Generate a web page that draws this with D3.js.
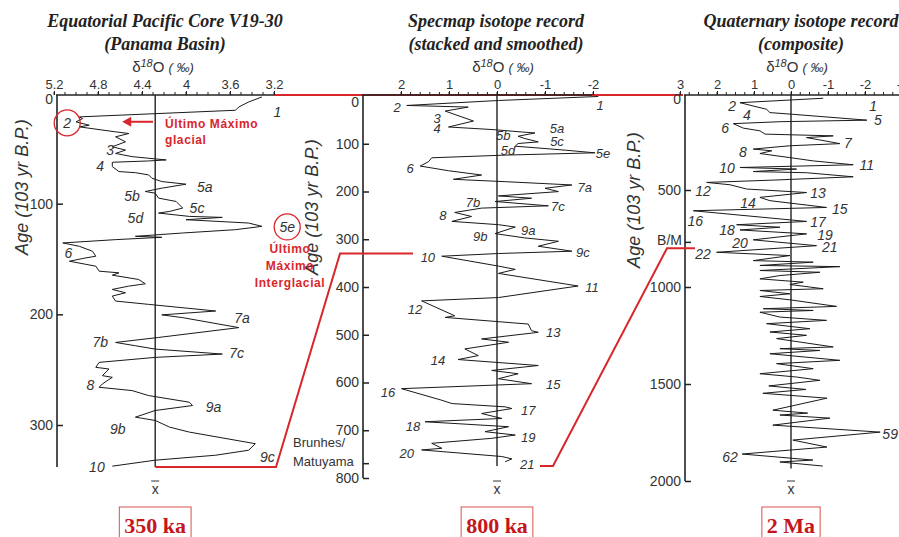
<!DOCTYPE html>
<html>
<head>
<meta charset="utf-8">
<script src="https://cdn.jsdelivr.net/npm/d3@7"></script>
<style>
  body { margin: 0; background: #fff; }
</style>
</head>
<body>
<div id="chart"></div>
<script>
// ---- data: [age (ka), δ18O (‰)] ----

// Equatorial Pacific core V19-30 (Panama Basin)
const v1930 = [
  [3.6,3.31],[8.1,3.43],[12.6,3.52],[15.6,3.55],[21.6,4.97],[23.1,4.94],[26.1,5.00],[29.1,4.88],
  [30.6,4.97],[35.1,4.64],[36.6,4.52],[39.6,4.64],[44.1,4.55],[48.6,4.67],[51.6,4.55],[54.6,4.64],
  [57.5,4.49],[60.5,4.18],[61.4,4.34],[62.6,4.67],[66.5,4.67],[71,4.61],[72,4.46],[74,4.34],
  [77,4.31],[80,4.22],[82.4,4.00],[86,4.22],[89,4.37],[90.5,4.28],[95,4.25],[98,4.09],
  [104,4.03],[107,4.15],[108.5,4.25],[111.5,3.97],[112.4,3.67],[114.5,4.00],[117.5,3.43],[120.5,3.31],
  [123.5,3.55],[126.5,4.03],[129.5,4.46],[130.4,4.22],[132.5,4.64],[135.5,5.12],[138.5,4.97],[143,4.85],
  [147.5,4.82],[149,4.91],[152,5.06],[156.5,4.82],[161,4.79],[162.5,4.61],[164.6,4.67],[168.5,4.43],
  [172.4,4.37],[174.5,4.52],[177.5,4.67],[180.5,4.55],[183.5,4.67],[188,4.64],[191,4.34],[197,3.73],
  [200.5,4.22],[203,4.03],[212,3.52],[220.9,4.25],[225.4,4.64],[228.4,4.46],[231.4,4.28],[235.9,3.67],
  [238.9,4.28],[243.4,4.79],[247.9,4.82],[249.4,4.70],[255.4,4.76],[256.9,4.67],[262.9,4.76],[265.9,4.79],
  [268.9,4.49],[273.4,4.34],[279.4,3.97],[282.4,3.94],[286.9,4.28],[292.9,4.46],[295.9,4.28],[301.9,4.15],
  [306.4,3.97],[316.9,3.37],[322.8,3.43],[327.3,3.73],[331.8,4.28],[337.2,4.67]
];
const v1930Stages = [
  ["1",17,3.17],["2",27,5.08],["3",51.5,4.69],["4",66,4.78],["5a",85,3.83],["5b",93,4.49],
  ["5c",104,3.90],["5d",113,4.46],["5e",121,3.08],["6",144.5,5.07],["7a",203,3.49],["7b",225,4.78],
  ["7c",235,3.54],["8",264,4.87],["9a",284,3.75],["9b",304,4.62],["9c",329,3.26],["10",338,4.81]
];
const v1930Mean = 4.28;

// SPECMAP stacked and smoothed record
const specmap = [
  [1,-2.11],[9.4,-0.03],[19.8,1.88],[23.2,0.60],[31.6,1.08],[52.4,0.49],[64.9,1.01],[70.4,0.08],
  [75.3,-0.51],[77.4,-0.79],[84.3,-0.44],[89.1,-0.58],[96.1,-0.86],[99.5,-0.44],[105.1,-0.38],[113.4,-1.42],
  [119,-2.04],[123.8,-0.17],[129.4,1.36],[137.8,1.43],[146.7,1.60],[156.5,1.01],[165.5,0.32],[174.5,0.91],
  [179.4,-0.17],[186.3,-1.56],[193.2,-1.00],[200.2,-1.28],[209.2,-0.03],[214.1,-0.72],[221,0.04],[230,-1.07],
  [234.8,0.32],[243.9,0.88],[252.3,0.53],[262.6,0.94],[269.5,-0.03],[274.4,-0.38],[288.2,0.04],[297.2,-0.58],
  [304.2,-1.28],[314.6,-0.86],[325,-1.56],[329.9,-0.03],[335.5,1.15],[356.2,-0.03],[363.1,-0.38],[371.5,-0.03],
  [397.9,-1.69],[422.1,-0.03],[429.1,1.57],[460.3,0.88],[463.7,1.08],[477.6,-0.65],[491.5,-0.72],[494.9,-0.86],
  [508.8,0.32],[515.7,-0.24],[529.7,0.67],[543.6,0.39],[551.9,0.81],[564.4,-0.86],[574.8,0.11],[581.7,-0.44],
  [592.1,-0.03],[602.5,-0.72],[612.9,1.99],[637.2,1.15],[644.1,0.94],[651,-0.17],[654.5,-0.31],[664.9,0.32],
  [675.3,-0.10],[682.2,1.50],[692.6,-0.24],[703,0.25],[710,-0.38],[716.9,0.11],[727.3,1.36],[737.8,1.15],
  [741.2,1.57],[755,-0.10],[760,-0.31],[766,-0.17]
];
const specmapStages = [
  ["1",19,-2.15],["2",23,2.08],["3",46,1.25],["4",69,1.25],["5a",67,-1.25],["5b",82,-0.13],
  ["5c",96,-1.25],["5d",113,-0.23],["5e",121,-2.21],["6",151,1.81],["7a",191,-1.83],["7b",222,0.5],
  ["7c",232,-1.27],["8",251,1.13],["9a",281,-0.65],["9b",295,0.35],["9c",327,-1.79],["10",339,1.44],
  ["11",400,-1.98],["12",448,1.71],["13",496,-1.17],["14",553,1.23],["15",605,-1.17],["16",620,2.27],
  ["17",658,-0.65],["18",693,1.75],["19",716,-0.65],["20",748,1.88],["21",771,-0.63]
];
const specmapMean = 0;

// Quaternary composite record
const quaternary = [
  [27,-0.87],[50,1.38],[84,0.66],[101,0.57],[110,-0.06],[140,-2.05],[148,0.30],[158,1.56],
  [181,1.29],[195,0.84],[212,0.70],[221,-1.14],[230,-0.42],[242,-0.78],[261,-1.32],[272,0.03],
  [289,1.02],[298,0.52],[312,0.84],[333,0.03],[350,-0.60],[370,-1.68],[384,1.38],[392,-0.15],
  [405,1.02],[411,-0.42],[432,-1.68],[449,0.48],[461,2.28],[473,1.65],[495,1.20],[513,-0.42],
  [538,0.84],[555,0.57],[590,-0.96],[607,2.64],[662,-0.42],[679,1.47],[692,0.30],[706,1.38],
  [726,-0.42],[757,1.02],[787,-0.69],[821,2.01],[838,0.03],[864,1.02],[872,-0.60],[889,0.84],
  [895,-1.32],[915,0.84],[924,-0.78],[941,0.30],[958,0.84],[975,-0.33],[987,0.03],[1009,-0.87],
  [1018,0.84],[1035,0.03],[1049,0.84],[1066,0.03],[1100,-1.23],[1112,0.75],[1121,-0.60],[1130,0.84],
  [1155,0.30],[1172,-0.96],[1189,0.66],[1215,-0.51],[1232,0.57],[1249,-0.42],[1266,0.39],[1309,-1.14],
  [1318,0.30],[1327,-0.78],[1344,0.57],[1378,-1.32],[1395,0.39],[1421,-0.60],[1447,0.84],[1464,-0.15],
  [1481,-0.78],[1510,0.60],[1528,-0.40],[1548,0.76],[1573,-0.97],[1635,0.49],[1650,-0.45],[1660,0.30],
  [1676,-1.05],[1712,0.49],[1748,-2.41],[1789,-0.05],[1825,-0.97],[1861,1.32],[1892,-0.59],[1902,0.30],
  [1923,-0.86]
];
const quaternaryStages = [
  ["1",67,-2.22],["2",67,1.59],["4",113,1.19],["5",139,-2.35],["6",180,1.78],["7",258,-1.54],
  ["8",304,1.30],["10",387,1.73],["11",371,-2.05],["12",505,2.38],["13",515,-0.73],["14",567,1.16],
  ["15",598,-1.32],["16",660,2.59],["17",665,-0.73],["18",706,1.73],["19",732,-0.92],["20",773,1.38],
  ["21",794,-1.05],["22",830,2.38],["59",1758,-2.68],["62",1876,1.65]
];
const quaternaryMean = 0;

// titles, ticks and time spans
const titles = [
  ["Equatorial Pacific Core V19-30", "(Panama Basin)"],
  ["Specmap isotope record", "(stacked and smoothed)"],
  ["Quaternary isotope record", "(composite)"]
];
const xTicks = [[5.2, 4.8, 4.4, 4, 3.6, 3.2], [2, 1, 0, -1, -2], [3, 2, 1, 0, -1, -2, -3]];
const yTicks = [[0, 100, 200, 300], [0, 100, 200, 300, 400, 500, 600, 700, 800], [0, 500, 1000, 1500, 2000]];
const spanLabels = ["350 ka", "800 ka", "2 Ma"];
const endAges = [338, 775, 1935];   // where each record ends
const bmAge = 770;                  // Brunhes/Matuyama boundary

// ---- layout ----
const width = 899, height = 537;
const axisY = 95;
const red = "#d8262b";
const ink = "#222";

const svg = d3.create("svg")
    .attr("width", width)
    .attr("height", height)
    .attr("style", "font-family: 'Liberation Sans', Arial, sans-serif;");
d3.select("#chart").node().appendChild(svg.node());

const panels = [
  { data: v1930, stages: v1930Stages, mean: v1930Mean, xDomain: [5.2, 3.2], xRange: [54, 274],
    yDomain: [0, 300], yRange: [93, 425], left: 57, axisEnd: 273, minor: 0.1, cx: 165, dx: 163,
    ageLabel: [28, 187], stageSize: 14 },
  { data: specmap, stages: specmapStages, mean: specmapMean, xDomain: [2, -2], xRange: [401, 593],
    yDomain: [0, 800], yRange: [96, 478], left: 363, axisEnd: 592, minor: 0.2, cx: 496, dx: 503,
    ageLabel: [318, 207], stageSize: 13 },
  { data: quaternary, stages: quaternaryStages, mean: quaternaryMean, xDomain: [3, -3], xRange: [680, 902],
    yDomain: [0, 2000], yRange: [93, 481], left: 685, axisEnd: 899, minor: 0.25, cx: 801, dx: 797,
    ageLabel: [640, 200], stageSize: 14 }
];
panels.forEach(p => {
  p.x = d3.scaleLinear().domain(p.xDomain).range(p.xRange);
  p.y = d3.scaleLinear().domain(p.yDomain).range(p.yRange);
});

// red line along the top, under the middle axis
svg.append("line")
    .attr("x1", panels[0].axisEnd).attr("x2", panels[2].left - 2)
    .attr("y1", axisY).attr("y2", axisY)
    .attr("stroke", red).attr("stroke-width", 2);

panels.forEach((p, i) => {
  const g = svg.append("g");
  const x = p.x, y = p.y;

  // titles
  g.selectAll(".title")
    .data(titles[i])
    .join("text")
    .attr("x", p.cx)
    .attr("y", (d, j) => 27 + j * 23)
    .attr("text-anchor", "middle")
    .attr("font-family", "'Liberation Serif', serif")
    .attr("font-weight", "bold")
    .attr("font-style", "italic")
    .attr("font-size", 18)
    .attr("fill", "#222")
    .text(d => d);

  // δ18O (‰)
  const d18 = g.append("text")
      .attr("x", p.dx).attr("y", 72)
      .attr("text-anchor", "middle")
      .attr("font-size", 15)
      .attr("fill", "#333");
  d18.append("tspan").text("δ");
  d18.append("tspan").attr("font-size", 11).attr("dy", -5).attr("font-style", "italic").text("18");
  d18.append("tspan").attr("dy", 5).text("O ");
  d18.append("tspan").attr("font-style", "italic").attr("font-size", 13).text("( ‰)");

  // top axis
  const step = p.minor * Math.sign(p.xDomain[1] - p.xDomain[0]);
  const minorTicks = d3.range(p.xDomain[0], p.xDomain[1] + step / 2, step);
  g.append("g")
      .selectAll("line")
      .data(minorTicks)
      .join("line")
      .attr("x1", d => x(d)).attr("x2", d => x(d))
      .attr("y1", axisY).attr("y2", axisY - 3)
      .attr("stroke", ink).attr("stroke-width", 1);

  const top = g.append("g")
      .attr("transform", `translate(0,${axisY})`)
      .call(d3.axisTop(x).tickValues(xTicks[i]).tickFormat(d => String(d)).tickSize(4).tickPadding(2));
  top.select(".domain").remove();
  top.selectAll("text").attr("font-size", 13).attr("fill", "#333");
  top.selectAll("line").attr("stroke", ink);

  g.append("line")
      .attr("x1", p.left - 1).attr("x2", p.axisEnd)
      .attr("y1", axisY).attr("y2", axisY)
      .attr("stroke", ink).attr("stroke-width", 1.6);

  // left (age) axis, ticks pointing inward
  const yBottom = i === 0 ? y(endAges[0]) : p.yRange[1];
  const leftAxis = g.append("g")
      .attr("transform", `translate(${p.left},0)`)
      .call(d3.axisLeft(y).tickValues(yTicks[i]).tickFormat(d => String(d)).tickSize(-6).tickPadding(4));
  leftAxis.select(".domain").remove();
  leftAxis.selectAll("text").attr("font-size", 14).attr("fill", "#333");
  // the "0" sits just under the top axis
  leftAxis.selectAll(".tick").filter(d => d === 0).select("text").attr("dy", "0.75em");
  leftAxis.selectAll(".tick").filter(d => d === 0).select("line").remove();
  leftAxis.selectAll("line").attr("stroke", ink).attr("stroke-width", 1.5);

  g.append("line")
      .attr("x1", p.left).attr("x2", p.left)
      .attr("y1", axisY).attr("y2", yBottom)
      .attr("stroke", ink).attr("stroke-width", 1.6);

  // Age label
  g.append("text")
      .attr("transform", `translate(${p.ageLabel[0]},${p.ageLabel[1]}) rotate(-90)`)
      .attr("text-anchor", "middle")
      .attr("font-size", 18)
      .attr("font-style", "italic")
      .attr("fill", "#333")
      .text("Age (103 yr B.P.)");

  // mean line and x̄
  const mx = x(p.mean);
  g.append("line")
      .attr("x1", mx).attr("x2", mx)
      .attr("y1", axisY).attr("y2", y(endAges[i]))
      .attr("stroke", ink).attr("stroke-width", 1.4);
  g.append("text")
      .attr("x", mx).attr("y", 494)
      .attr("text-anchor", "middle")
      .attr("font-size", 14)
      .attr("fill", "#333")
      .text("x");
  g.append("line")
      .attr("x1", mx - 4).attr("x2", mx + 4)
      .attr("y1", 481).attr("y2", 481)
      .attr("stroke", "#333").attr("stroke-width", 1);

  // isotope curve
  g.append("path")
      .datum(p.data)
      .attr("fill", "none")
      .attr("stroke", "#1a1a1a")
      .attr("stroke-width", 1)
      .attr("stroke-linejoin", "round")
      .attr("d", d3.line().x(d => x(d[1])).y(d => y(d[0])));

  // isotope stage numbers
  g.append("g")
      .selectAll("text")
      .data(p.stages)
      .join("text")
      .attr("x", d => x(d[2]))
      .attr("y", d => y(d[1]))
      .attr("dy", "0.35em")
      .attr("text-anchor", "middle")
      .attr("font-size", p.stageSize)
      .attr("font-style", "italic")
      .attr("fill", "#333")
      .text(d => d[0]);

  // time span box
  const span = g.append("text")
      .attr("x", mx).attr("y", 533)
      .attr("text-anchor", "middle")
      .attr("font-family", "'Liberation Serif', serif")
      .attr("font-weight", "bold")
      .attr("font-size", 22)
      .attr("fill", "#c4161c")
      .text(spanLabels[i]);
  const w = span.node().getComputedTextLength() + 10;
  g.append("rect")
      .attr("x", mx - w / 2).attr("y", 507)
      .attr("width", w).attr("height", 40)
      .attr("fill", "none")
      .attr("stroke", "#d9534f")
      .attr("stroke-width", 1);
});

// Brunhes/Matuyama ticks
const [p1, p2, p3] = panels;
[p2, p3].forEach(p => {
  svg.append("line")
      .attr("x1", p.left).attr("x2", p.left + 6)
      .attr("y1", p.y(bmAge)).attr("y2", p.y(bmAge))
      .attr("stroke", ink).attr("stroke-width", 1.5);
});
svg.append("text")
    .attr("x", 293).attr("y", p2.y(bmAge) - 17)
    .attr("font-size", 13).attr("fill", "#333")
    .text("Brunhes/");
svg.append("text")
    .attr("x", 293).attr("y", p2.y(bmAge) + 2)
    .attr("font-size", 13).attr("fill", "#333")
    .text("Matuyama");
svg.append("text")
    .attr("x", p3.left - 3).attr("y", p3.y(bmAge) + 3)
    .attr("text-anchor", "end")
    .attr("font-size", 14).attr("fill", "#333")
    .text("B/M");

// ---- red annotations ----
const ann = svg.append("g").attr("fill", "none").attr("stroke", red).attr("stroke-width", 2);

// connectors between the records
ann.append("polyline")
    .attr("points", [[p1.x(v1930Mean), p1.y(endAges[0])], [276, p1.y(endAges[0])],
                     [340, p2.y(330)], [413, p2.y(330)]].join(" "));
ann.append("polyline")
    .attr("points", [[540, p2.y(endAges[1])], [553, p2.y(endAges[1])],
                     [667, p3.y(800)], [695, p3.y(800)]].join(" "));

// circles around stages 2 and 5e
[v1930Stages[1], v1930Stages[8]].forEach(s => {
  ann.append("circle")
      .attr("cx", p1.x(s[2])).attr("cy", p1.y(s[1]))
      .attr("r", 13)
      .attr("stroke-width", 1.3);
});

// arrow to the last glacial maximum
const ay = p1.y(26);
ann.append("line")
    .attr("x1", p1.x(4.30)).attr("x2", p1.x(4.52))
    .attr("y1", ay).attr("y2", ay);
svg.append("path")
    .attr("d", `M${p1.x(4.58)},${ay} l9,-5 l0,10 z`)
    .attr("fill", red);

const redText = svg.append("g")
    .attr("fill", red)
    .attr("font-weight", "bold")
    .attr("font-size", 12)
    .attr("letter-spacing", 0.6);
redText.append("text").attr("x", 165).attr("y", 128).text("Último Máximo");
redText.append("text").attr("x", 165).attr("y", 144).text("glacial");
["Último", "Máximo", "Interglacial"].forEach((t, j) => {
  redText.append("text")
      .attr("x", 290).attr("y", 253 + j * 17)
      .attr("text-anchor", "middle")
      .text(t);
});
</script>
</body>
</html>
